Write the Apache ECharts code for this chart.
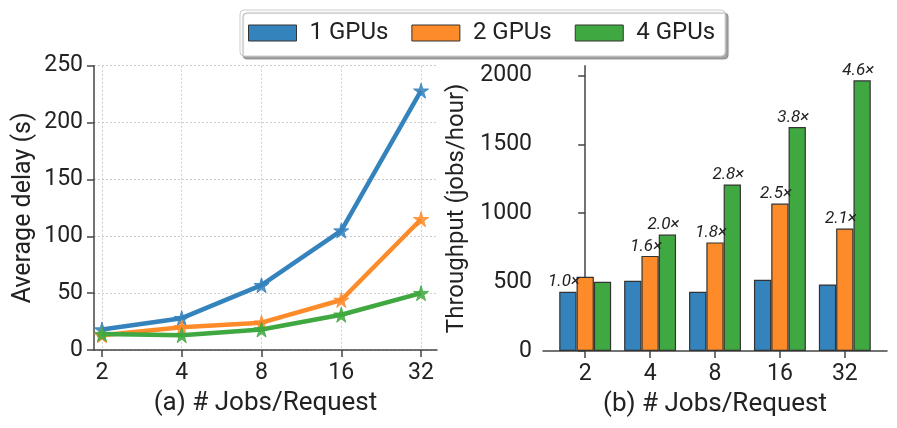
<!DOCTYPE html>
<html>
<head>
<meta charset="utf-8">
<script src="https://cdn.jsdelivr.net/npm/echarts@6/dist/echarts.min.js"></script>
<style>
html, body { margin: 0; padding: 0; background: #fff; }
#charts { width: 897px; height: 428px; }
</style>
</head>
<body>
<div id="charts"></div>
<script>
var jobs = ["2", "4", "8", "16", "32"];
var gpuNames = ["1 GPUs", "2 GPUs", "4 GPUs"];
var colors = ["#3583bd", "#fd8b2a", "#40a840"];

// (a) average delay, seconds
var delay1 = [18, 28, 57, 105, 228];
var delay2 = [13, 20, 24, 44, 115];
var delay4 = [14, 13, 18, 31, 50];

// (b) throughput, jobs/hour
var tput1 = [430, 510, 430, 517, 483];
var tput2 = [538, 690, 788, 1070, 889];
var tput4 = [502, 845, 1208, 1625, 1964];

// speedup labels over the bars
var speed1 = ["1.0×", "", "", "", ""];
var speed2 = ["", "1.6×", "1.8×", "2.5×", "2.1×"];
var speed4 = ["", "2.0×", "2.8×", "3.8×", "4.6×"];

var yTicksA = [0, 50, 100, 150, 200, 250];
var yTicksB = [0, 500, 1000, 1500, 2000];

var star = 'path://M50,0 L61,35 L98,35 L68,57 L79,91 L50,70 L21,91 L32,57 L2,35 L39,35 Z';
var font = "Roboto";
var idx = [0, 1, 2, 3, 4];

function pts(arr) {
	return arr.map(function (v, i) { return [i + 1, v]; });
}
function bars(arr) {
	return arr.map(function (v, i) { return [i, v]; });
}

var axisLine = { show: true, lineStyle: { color: "#444", width: 1.5 } };
var labelStyle = { color: "#222", fontSize: 23, fontFamily: font };
var xNameStyle = { color: "#222", fontSize: 26, fontFamily: font };
function tick(vals) {
	return { show: true, length: 7, lineStyle: { color: "#444", width: 1.5 }, customValues: vals };
}

var lineSeries = [delay1, delay2, delay4].map(function (d, k) {
	return {
		name: gpuNames[k],
		type: "line",
		xAxisIndex: 0,
		yAxisIndex: 0,
		data: pts(d),
		symbol: star,
		symbolSize: 15,
		lineStyle: { color: colors[k], width: 4.5 },
		itemStyle: { color: colors[k], borderColor: colors[k], borderWidth: 1, opacity: 0.85 },
		z: 3 + k
	};
});

var speeds = [speed1, speed2, speed4];
var barSeries = [tput1, tput2, tput4].map(function (d, k) {
	return {
		name: gpuNames[k],
		type: "bar",
		xAxisIndex: 1,
		yAxisIndex: 1,
		data: bars(d),
		barWidth: 17.3,
		barGap: "0%",
		itemStyle: { color: colors[k], borderColor: "#333", borderWidth: 1.2 },
		label: {
			show: true,
			position: "top",
			distance: 1,
			offset: [-4, 0],
			fontStyle: "italic",
			fontSize: 17,
			fontFamily: font,
			color: "#222",
			formatter: function (p) { return speeds[k][p.dataIndex]; }
		}
	};
});

var chart = echarts.init(document.getElementById("charts"));
chart.setOption({
	animation: false,
	backgroundColor: "#fff",
	legend: {
		left: 240,
		top: 10,
		data: gpuNames.map(function (n, k) {
			return { name: n, icon: "rect", itemStyle: { color: colors[k], borderColor: "#333", borderWidth: 1 } };
		}),
		itemWidth: 48,
		itemHeight: 16,
		itemGap: 23,
		padding: [11, 10, 11, 8],
		backgroundColor: "#fff",
		borderColor: "#ccc",
		borderWidth: 1,
		borderRadius: 4,
		shadowColor: "rgba(0,0,0,0.35)",
		shadowOffsetX: 3,
		shadowOffsetY: 3,
		shadowBlur: 1,
		textStyle: { color: "#222", fontSize: 24, fontFamily: font, padding: [0, 0, 0, 8] }
	},
	grid: [
		{ left: 94, top: 65.7, width: 343, height: 284.3 },
		{ left: 543, top: 65.7, width: 344, height: 285.3 }
	],
	xAxis: [{
		gridIndex: 0,
		type: "value",
		min: 0.9,
		max: 5.2,
		name: "(a) # Jobs/Request",
		nameLocation: "middle",
		nameGap: 40,
		nameTextStyle: xNameStyle,
		axisLine: axisLine,
		axisTick: tick([1, 2, 3, 4, 5]),
		axisLabel: Object.assign({ margin: 12, customValues: [1, 2, 3, 4, 5], formatter: function (v) { return jobs[Math.round(v) - 1]; } }, labelStyle),
		splitLine: { show: true, lineStyle: { color: "#ccc", type: [2, 2], width: 1 } }
	}, {
		gridIndex: 1,
		type: "value",
		min: -0.65,
		max: 4.65,
		name: "(b) # Jobs/Request",
		nameLocation: "middle",
		nameGap: 40,
		nameTextStyle: xNameStyle,
		axisLine: axisLine,
		axisTick: tick(idx),
		axisLabel: Object.assign({ margin: 12, customValues: idx, formatter: function (v) { return jobs[Math.round(v)]; } }, labelStyle),
		splitLine: { show: false }
	}],
	yAxis: [{
		gridIndex: 0,
		type: "value",
		min: 0,
		max: 250,
		name: "Average delay (s)",
		nameLocation: "middle",
		nameGap: 58,
		nameTextStyle: { color: "#222", fontSize: 25, fontFamily: font },
		axisLine: axisLine,
		axisTick: tick(yTicksA),
		axisLabel: Object.assign({ margin: 11, customValues: yTicksA, formatter: function (v) { return String(v); } }, labelStyle),
		splitLine: { show: true, lineStyle: { color: "#ccc", type: [2, 2], width: 1 } }
	}, {
		gridIndex: 1,
		type: "value",
		min: 0,
		max: 2070,
		name: "Throughput (jobs/hour)",
		nameLocation: "middle",
		nameGap: 74,
		nameTextStyle: { color: "#222", fontSize: 24, fontFamily: font },
		axisLine: axisLine,
		axisTick: tick(yTicksB),
		axisLabel: Object.assign({ margin: 11, customValues: yTicksB, formatter: function (v) { return String(v); } }, labelStyle),
		splitLine: { show: false }
	}],
	series: barSeries.concat(lineSeries)
});
</script>
</body>
</html>
